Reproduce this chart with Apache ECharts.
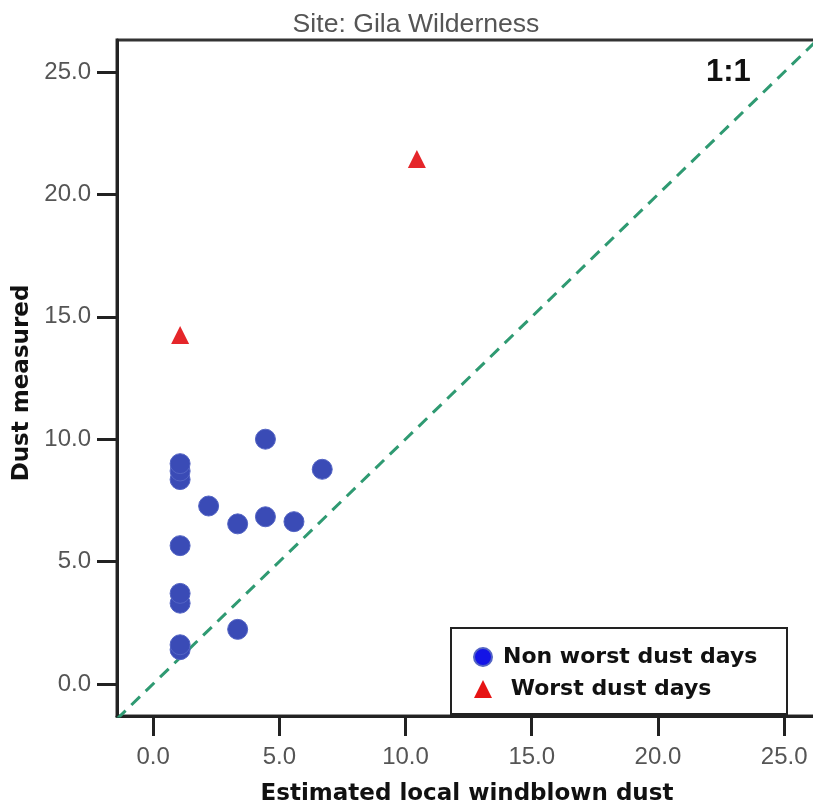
<!DOCTYPE html>
<html>
<head>
<meta charset="utf-8">
<script src="https://cdn.jsdelivr.net/npm/echarts@6/dist/echarts.min.js"></script>
<style>
  html, body { margin: 0; padding: 0; background: #fff; }
  #main { width: 813px; height: 806px; }
</style>
</head>
<body>
<div id="main"></div>
<script>
// 非最差沙尘日 (x: 估算本地风蚀尘, y: 实测尘)
var nonWorst = [
    [1.07, 1.4], [1.07, 1.6], [3.35, 2.23], [1.07, 3.3], [1.07, 3.7],
    [1.07, 5.65], [1.07, 8.35], [1.07, 8.7], [1.07, 9.0], [2.2, 7.27],
    [3.35, 6.54], [4.45, 6.83], [5.58, 6.63], [4.45, 10.0], [6.7, 8.77]
];
// 最差沙尘日
var worst = [[1.07, 14.26], [10.45, 21.45]];
// 1:1 参考线
var oneToOne = [[-2, -2], [28, 28]];
// 刻度
var tickValues = [0, 5, 10, 15, 20, 25];

var xMin = -1.43, xMax = 26.3;
var yMin = -1.31, yMax = 26.31;

var axisCommon = {
    type: 'value',
    axisLine: { show: true, onZero: false, lineStyle: { color: '#222', width: 3 } },
    axisTick: { show: true, length: 20, customValues: tickValues, lineStyle: { color: '#222', width: 3 } },
    axisLabel: {
        customValues: tickValues,
        color: '#555',
        fontSize: 24,
        fontFamily: 'Liberation Sans, Arial',
        formatter: function (v) { return v.toFixed(1); }
    },
    splitLine: { show: false },
    nameLocation: 'middle',
    nameTextStyle: { color: '#111', fontSize: 23, fontWeight: 'bold', fontFamily: 'DejaVu Sans' }
};

var option = {
    animation: false,
    backgroundColor: '#fff',
    title: {
        text: 'Site: Gila Wilderness',
        left: 411,
        textAlign: 'center',
        top: 6,
        textStyle: { color: '#555', fontSize: 26.6, fontWeight: 'normal', fontFamily: 'Liberation Sans, Arial' }
    },
    grid: {
        left: 117, top: 40, width: 700, height: 676,
        outerBoundsMode: 'none',
        containLabel: false,
        show: true, borderColor: '#333', borderWidth: 3, backgroundColor: 'transparent'
    },
    xAxis: Object.assign({}, axisCommon, {
        min: xMin, max: xMax,
        name: 'Estimated local windblown dust',
        nameGap: 67,
        axisLabel: Object.assign({}, axisCommon.axisLabel, { margin: 29 })
    }),
    yAxis: Object.assign({}, axisCommon, {
        min: yMin, max: yMax,
        name: 'Dust measured',
        nameGap: 82,
        nameTextStyle: Object.assign({}, axisCommon.nameTextStyle, { padding: [0, 10, 0, 0] }),
        axisLabel: Object.assign({}, axisCommon.axisLabel, { margin: 26 })
    }),
    legend: {
        orient: 'vertical',
        left: 473,
        top: 646,
        padding: 0,
        itemGap: 10,
        itemWidth: 18,
        itemHeight: 18,
        z: 20,
        textStyle: { color: '#111', fontSize: 22, fontWeight: 'bold', fontFamily: 'DejaVu Sans', lineHeight: 22, padding: [0, 0, 0, 6] },
        data: [
            { name: 'Non worst dust days', icon: 'circle', itemStyle: { color: '#1414e6' } },
            { name: ' Worst dust days', icon: 'triangle', itemStyle: { color: '#e61414' } }
        ]
    },
    graphic: [
        { type: 'rect', shape: { x: 451, y: 628, width: 336, height: 86 },
          style: { fill: '#fff', stroke: '#222', lineWidth: 2 }, z: 5 },
        { type: 'text', left: 706, top: 57,
          style: { text: '1:1', fill: '#111', font: 'bold 31px Liberation Sans, Arial' }, z: 5 }
    ],
    series: [
        {
            name: '1:1',
            type: 'line',
            data: oneToOne,
            symbol: 'none',
            clip: true,
            lineStyle: { color: '#2f9a72', width: 3, type: [12, 8] },
            z: 1
        },
        {
            name: 'Non worst dust days',
            type: 'scatter',
            data: nonWorst,
            symbol: 'circle',
            symbolSize: 20,
            itemStyle: { color: '#3a4bb6', borderColor: '#5364c4', borderWidth: 1, opacity: 1 },
            z: 3
        },
        {
            name: ' Worst dust days',
            type: 'scatter',
            data: worst,
            symbol: 'triangle',
            symbolSize: 18,
            itemStyle: { color: '#e5262a', opacity: 1 },
            z: 3
        }
    ]
};

var chart = echarts.init(document.getElementById('main'));
chart.setOption(option);
</script>
</body>
</html>
